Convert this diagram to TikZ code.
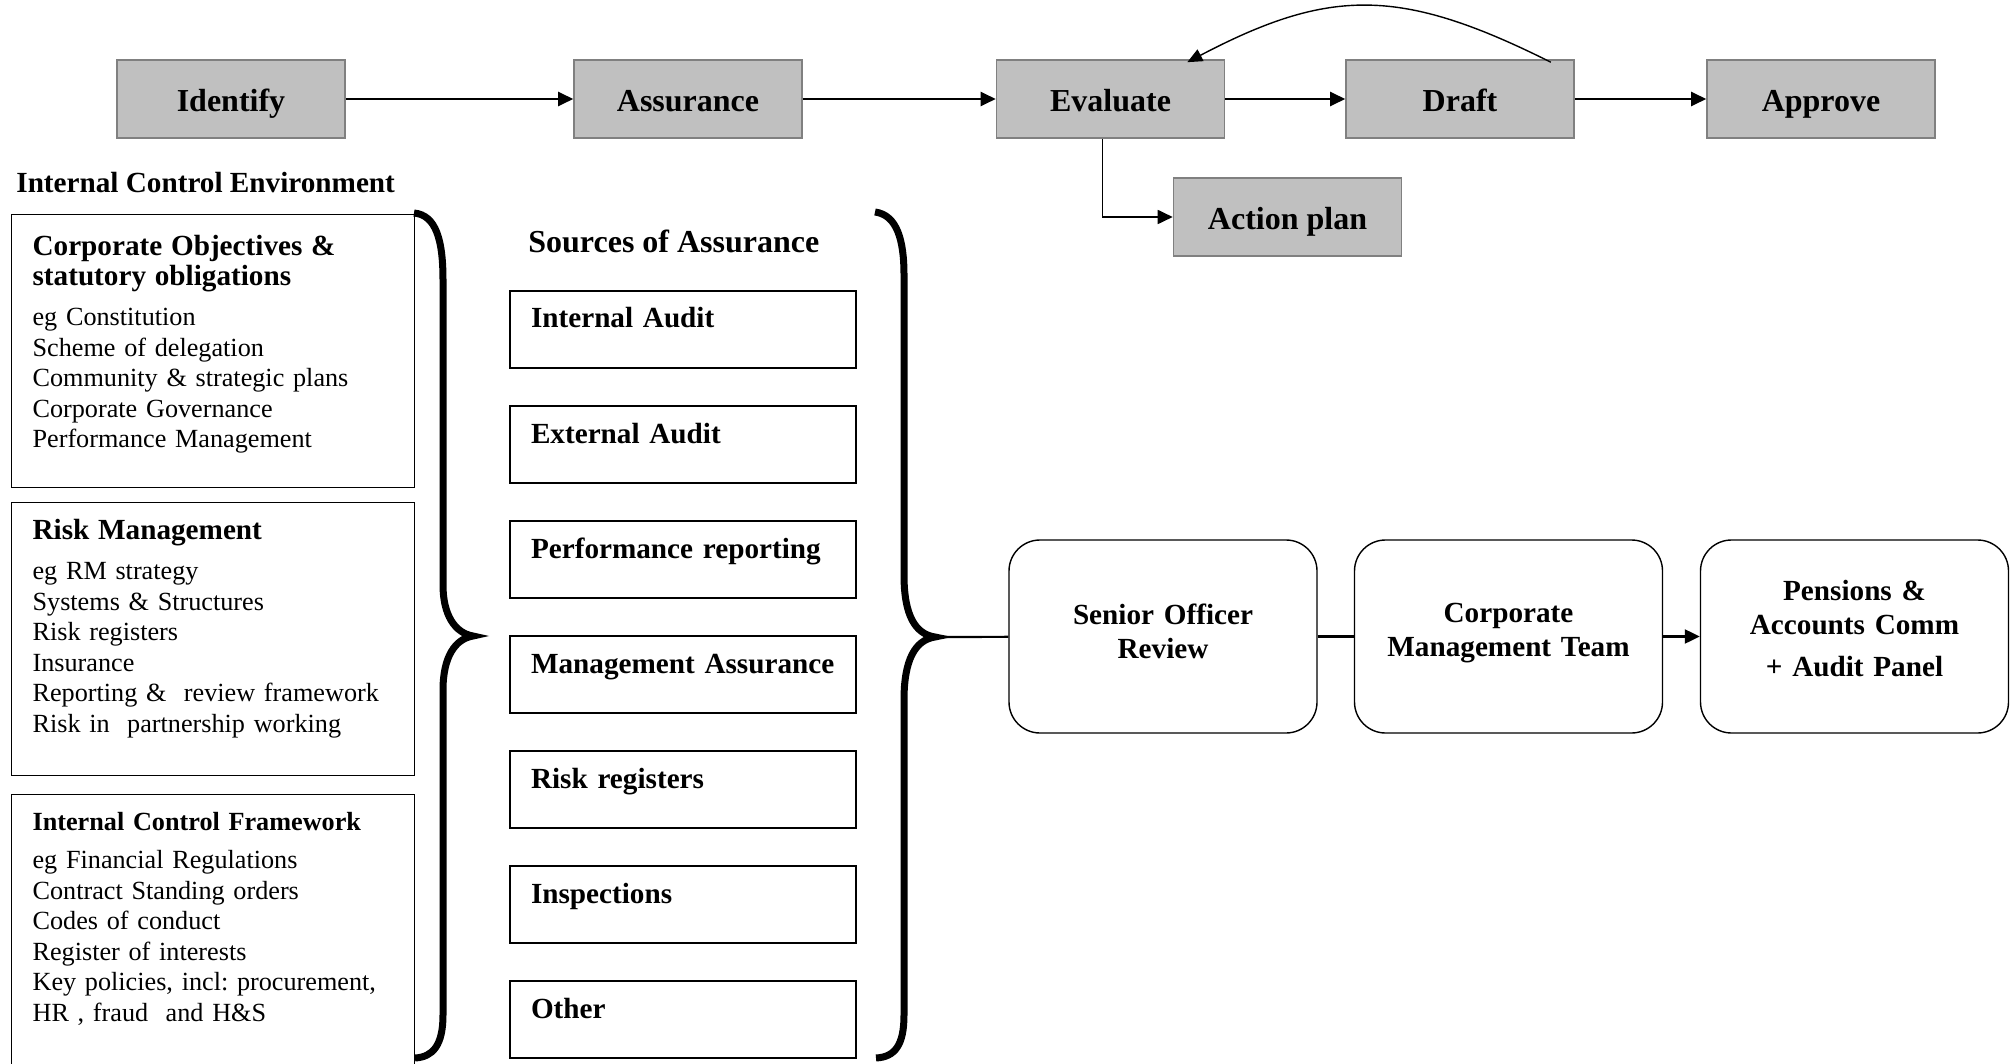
\documentclass[tikz,border=0pt]{standalone}
\usepackage{fontspec}
\setmainfont{Liberation Serif}
\usepackage{tikz}
\usetikzlibrary{arrows.meta}
\usetikzlibrary{positioning}
\definecolor{stagegrey}{RGB}{192,192,192}
\definecolor{stageedge}{RGB}{128,128,128}
\frenchspacing
\tikzset{
	stage/.style={draw=stageedge, fill=stagegrey, line width=0.8pt, minimum width=114pt, minimum height=39pt, inner sep=0pt, text height=15pt, text depth=2.3pt, font=\fontsize{16}{18}\selectfont\bfseries},
	envbox/.style={draw=black, line width=0.6pt, anchor=north west, text width=180.5pt, align=left, inner xsep=10.5pt, inner ysep=0pt, font=\fontsize{13.1}{15.25}\selectfont},
	srcbox/.style={draw=black, line width=0.6pt, text width=152pt, align=left, inner xsep=10.5pt, inner ysep=0pt, text height=18.5pt, text depth=20pt, font=\fontsize{14.6}{15}\selectfont\bfseries},
	panel/.style={draw=black, line width=0.7pt, rounded corners=15.5pt, text width=144pt, inner xsep=5pt, inner ysep=0pt, align=center, font=\fontsize{14.6}{17}\selectfont\bfseries},
	heading/.style={anchor=base west, inner sep=0pt, font=\fontsize{14.6}{15}\selectfont\bfseries},
	flow/.style={line width=1.1pt, -{Triangle[length=7.5pt,width=7pt]}},
	link/.style={line width=1.1pt},
	brace/.style={line width=3.5pt},
}

\begin{document}
\begin{tikzpicture}[x=0.5pt, y=-0.5pt]
	\useasboundingbox (0,0) rectangle (2013,1064);
	\clip (0,0) rectangle (2013,1064);
	% Process stages
	\node[stage] (ident) at (231,99) {Identify};
	\node[stage] (assur) at (688,99) {Assurance};
	\node[stage] (eval) at (1110.5,99) {Evaluate};
	\node[stage] (drft) at (1460,99) {Draft};
	\node[stage] (apprv) at (1821,99) {Approve};
	\node[stage] (actplan) at (1287.5,217) {Action plan};
	\draw[flow] (ident) -- (assur);
	\draw[flow] (assur) -- (eval);
	\draw[flow] (eval) -- (drft);
	\draw[flow] (drft) -- (apprv);
	\draw[flow, line width=0.9pt] ([xshift=-4pt]eval.south) |- (actplan.west);
	\draw[line width=0.7pt, -{Triangle[length=7.5pt,width=6.5pt]}] ([xshift=-12pt,yshift=-1.5pt]drft.north east) .. controls +(-150,-75) and +(143,-75) .. ([xshift=-19pt,yshift=-1.5pt]eval.north east);
	% Internal control environment
	\node[heading] (ice) at (16,193) {Internal Control Environment};
	\node[envbox, text height=20.5pt, text depth=116pt] (corpobj) at (11,214) {\fontsize{14.6}{15}\selectfont\bfseries Corporate Objectives \&\\ statutory obligations\\[4.75pt]\fontsize{13.1}{15.25}\selectfont\mdseries eg Constitution\\ Scheme of delegation\\ Community \& strategic plans\\ Corporate Governance\\ Performance Management};
	\node[envbox, text height=18.5pt, text depth=118pt] (riskmgmt) at (11,502) {\fontsize{14.6}{15}\selectfont\bfseries Risk Management\\[4.75pt]\fontsize{13.1}{15.25}\selectfont\mdseries eg RM strategy\\ Systems \& Structures\\ Risk registers\\ Insurance\\ Reporting \& \ review framework\\ Risk in \ partnership working};
	\node[envbox, text height=18pt, text depth=130pt] (icf) at (11,794) {\bfseries Internal Control Framework\\[3.75pt]\mdseries eg Financial Regulations\\ Contract Standing orders\\ Codes of conduct\\ Register of interests\\ Key policies, incl: procurement,\\ HR , fraud \ and H\&S};
	% Left brace
	\coordinate (lbtip) at (473,636);
	\draw[brace] (414,213) .. controls (436,215) and (443,240) .. (443,280) -- (443,585) .. controls (443,615) and (455,633) .. (lbtip) .. controls (455,639) and (443,657) .. (443,690) -- (443,1015) .. controls (443,1045) and (433,1057) .. (415,1058);
	% Sources of assurance
	\node[heading, font=\fontsize{16}{17}\selectfont\bfseries] (soa) at (528,253) {Sources of Assurance};
	\node[srcbox] (intaudit) at (683,329.5) {Internal Audit};
	\node[srcbox] (extaudit) at (683,444.5) {External Audit};
	\node[srcbox] (perfrep) at (683,559.5) {Performance reporting};
	\node[srcbox] (mgmtass) at (683,674.5) {Management Assurance};
	\node[srcbox] (riskreg) at (683,789.5) {Risk registers};
	\node[srcbox] (inspect) at (683,904.5) {Inspections};
	\node[srcbox] (other) at (683,1019.5) {Other};
	% Right brace
	\coordinate (rbtip) at (935,637);
	\draw[brace] (875,212) .. controls (897,215) and (904,240) .. (904,275) -- (904,575) .. controls (904,615) and (915,634) .. (rbtip) .. controls (915,640) and (904,660) .. (904,700) -- (904,1015) .. controls (904,1045) and (895,1057) .. (876,1058);
	% Review and reporting
	\node[panel, text height=42pt, text depth=54.5pt] (sor) at (1163,636.5) {Senior Officer\\ Review};
	\node[panel, text height=41pt, text depth=55.5pt] (cmt) at (1508.5,636.5) {Corporate\\ Management Team};
	\node[panel, text height=30pt, text depth=66.5pt] (pac) at (1854.5,636.5) {Pensions \&\\ Accounts Comm\\[4pt] + Audit Panel};
	\draw[link] (rbtip) -- (sor);
	\draw[link] (sor) -- (cmt);
	\draw[flow] (cmt) -- (pac);
\end{tikzpicture}
\end{document}
